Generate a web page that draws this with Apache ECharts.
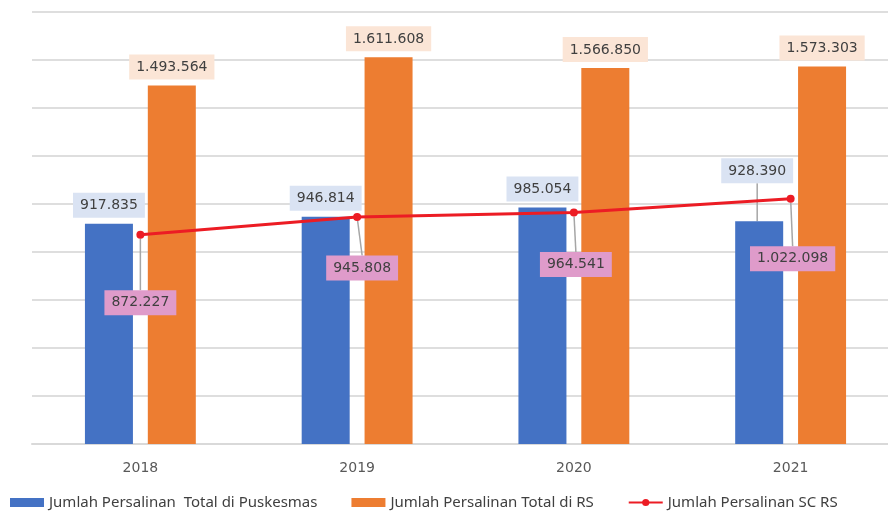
<!DOCTYPE html>
<html>
<head>
<meta charset="utf-8">
<script src="https://cdn.jsdelivr.net/npm/echarts@6/dist/echarts.min.js"></script>
<style>
html, body { margin: 0; padding: 0; background: #fff; }
#chart { width: 888px; height: 511px; }
</style>
</head>
<body>
<div id="chart"></div>
<script>
var years = ['2018', '2019', '2020', '2021'];
var puskesmas = [917835, 946814, 985054, 928390];
var totalRS = [1493564, 1611608, 1566850, 1573303];
var scRS = [872227, 945808, 964541, 1022098];

// nudges for the data labels (px), like the hand-moved excel labels
var puskesmasShift = [[0, 0], [0, 0], [0, 0], [-2, -32]];
var scShift = [[0, 68], [5, 51], [2, 52], [2, 60]];

function fmt(v) {
    return String(v).replace(/\B(?=(\d{3})+(?!\d))/g, '.');
}

var leader = { show: true, length2: 0, lineStyle: { color: '#a6a6a6', width: 1.5 } };

function dataLabel(bg, extra) {
    var l = {
        show: true,
        formatter: function (p) { return fmt(p.value); },
        backgroundColor: bg,
        padding: [6, 7, 5, 7],
        fontFamily: 'DejaVu Sans',
        fontSize: 14,
        color: '#404040'
    };
    return Object.assign(l, extra);
}

var myChart = echarts.init(document.getElementById('chart'));

var option = {
    animation: false,
    grid: { left: 32, top: 12, width: 867, height: 432, outerBoundsMode: 'none' },
    legend: {
        left: 5,
        top: 490,
        itemWidth: 34,
        itemHeight: 9,
        itemGap: 34,
        textStyle: { fontFamily: 'Noto Sans', fontSize: 15, color: '#404040' },
        data: [
            { name: 'Jumlah Persalinan  Total di Puskesmas', icon: 'rect' },
            { name: 'Jumlah Persalinan Total di RS', icon: 'rect' },
            { name: 'Jumlah Persalinan SC RS' }
        ]
    },
    xAxis: {
        type: 'category',
        data: years,
        axisLine: { lineStyle: { color: '#d9d9d9', width: 2 } },
        axisTick: { show: false },
        axisLabel: { fontFamily: 'DejaVu Sans', fontSize: 14, color: '#595959', margin: 17 }
    },
    yAxis: {
        type: 'value',
        min: 0,
        max: 1800000,
        interval: 200000,
        axisLabel: { show: false },
        axisLine: { show: false },
        splitLine: { lineStyle: { color: '#dedede', width: 2 } }
    },
    series: [
        {
            name: 'Jumlah Persalinan  Total di Puskesmas',
            type: 'bar',
            barWidth: 48,
            barGap: '31%',
            itemStyle: { color: '#4472c4' },
            data: puskesmas.map(function (v, i) {
                return { value: v, labelLine: { show: puskesmasShift[i][1] !== 0 } };
            }),
            label: dataLabel('#dae3f3', { position: 'top', distance: 6 }),
            labelLine: leader,
            labelLayout: function (p) {
                var s = puskesmasShift[p.dataIndex];
                return { dx: s[0], dy: s[1] };
            }
        },
        {
            name: 'Jumlah Persalinan Total di RS',
            type: 'bar',
            barWidth: 48,
            itemStyle: { color: '#ed7d31' },
            data: totalRS,
            label: dataLabel('#fbe5d6', { position: 'top', distance: 6 })
        },
        {
            name: 'Jumlah Persalinan SC RS',
            type: 'line',
            z: 5,
            data: scRS,
            symbol: 'circle',
            symbolSize: 8,
            lineStyle: { color: '#ec1c24', width: 3 },
            itemStyle: { color: '#ec1c24' },
            label: dataLabel('#df9bca', { position: 'bottom' }),
            labelLine: leader,
            labelLayout: function (p) {
                var s = scShift[p.dataIndex];
                return {
                    x: p.rect.x + p.rect.width / 2 + s[0],
                    y: p.rect.y + p.rect.height / 2 + s[1],
                    align: 'center',
                    verticalAlign: 'middle'
                };
            }
        }
    ]
};

myChart.setOption(option);
</script>
</body>
</html>
